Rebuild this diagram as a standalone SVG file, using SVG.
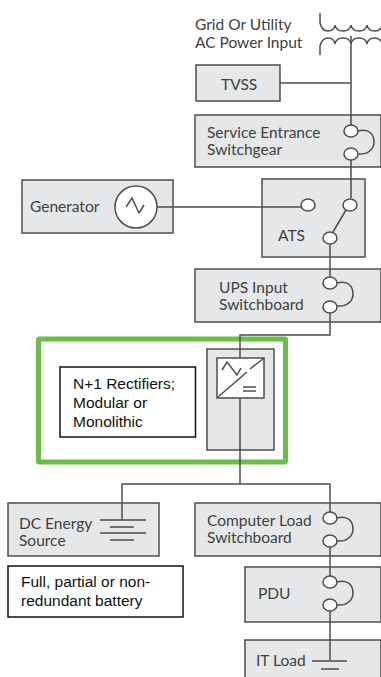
<svg xmlns="http://www.w3.org/2000/svg" width="381" height="677" viewBox="0 0 381 677">
<style>
.box{fill:#e6e7e8;stroke:#4d4d4f;stroke-width:1.5}
.wire{fill:none;stroke:#4d4d4f;stroke-width:1.5}
.term{fill:#fff;stroke:#4d4d4f;stroke-width:1.5}
.lbl{font-family:"Lato","Open Sans",sans-serif;font-size:15.5px;fill:#404042}
.note{font-family:"Liberation Sans",Arial,sans-serif;font-size:15.5px;fill:#111}
.noteb{fill:#fff;stroke:#111;stroke-width:1.5}
</style>
<defs>
<path id="bypass" class="wire" d="M0 0C12 -3 16 4 16 11C16 18 10 24 0 23"/>
</defs>
<rect width="381" height="677" fill="#fff"/>
<g id="green-highlight"><rect x="38.500" y="339" width="247" height="123" rx="1" fill="none" stroke="#6abd45" stroke-width="5"/></g>
<g id="grid-input">
<text class="lbl" x="195" y="30">Grid Or Utility</text>
<text class="lbl" x="195" y="48">AC Power Input</text>
<path class="wire" d="M320 13V23Q322 31 328 31Q334 31 335 25Q336 31 343 31Q350 31 351 25Q352 31 359 31Q366 31 367 25Q368 31 375 31Q379 31 381 28"/>
<path class="wire" d="M320 55V46Q322 38 328 38Q334 38 335 44Q336 38 343 38Q350 38 351 44Q352 38 359 38Q366 38 367 44Q368 38 375 38Q379 38 381 41"/>
</g>
<g id="tvss"><rect class="box" x="196" y="65" width="84" height="36"/><text class="lbl" x="221" y="90">TVSS</text></g>
<g id="service-entrance"><rect class="box" x="195" y="115" width="186" height="52"/><text class="lbl" x="207" y="138">Service Entrance</text><text class="lbl" x="207" y="155">Switchgear</text></g>
<g id="generator"><rect class="box" x="22" y="180" width="151" height="53"/><text class="lbl" x="30" y="212">Generator</text></g>
<g id="ats"><rect class="box" x="262" y="179" width="103" height="78"/><text class="lbl" x="278" y="241">ATS</text></g>
<g id="ups-input"><rect class="box" x="195" y="269" width="186" height="53"/><text class="lbl" x="219" y="293">UPS Input</text><text class="lbl" x="219" y="310">Switchboard</text></g>
<g id="rectifier"><rect class="box" x="207" y="349" width="67" height="101"/><rect x="217" y="358" width="47" height="40" fill="#fff" stroke="#4d4d4f" stroke-width="1.500"/></g>
<g id="rectifier-note"><rect class="noteb" x="60" y="367" width="135.500" height="70"/><text class="note" x="73" y="389">N+1 Rectifiers;</text><text class="note" x="73" y="408">Modular or</text><text class="note" x="73" y="427">Monolithic</text></g>
<g id="dc-source"><rect class="box" x="8" y="503" width="151" height="53"/><text class="lbl" x="19" y="529">DC Energy</text><text class="lbl" x="19" y="546">Source</text></g>
<g id="battery-note"><rect class="noteb" x="8" y="566" width="175" height="51"/><text class="note" x="21" y="587">Full, partial or non-</text><text class="note" x="21" y="606">redundant battery</text></g>
<g id="computer-load"><rect class="box" x="195" y="503" width="186" height="53"/><text class="lbl" x="207" y="526">Computer Load</text><text class="lbl" x="207" y="543">Switchboard</text></g>
<g id="pdu"><rect class="box" x="245" y="567" width="136" height="55"/><text class="lbl" x="258" y="599">PDU</text></g>
<g id="it-load"><path class="box" d="M245 677V640H381V677"/><text class="lbl" x="256" y="666">IT Load</text></g>
<g id="connectors">
<path class="wire" d="M351 36V125M280 83H351M351 160V198M157 207H301"/>
<path class="wire" d="M333 232L346 210M330 245V277M330 313V335H240V358M240 398V484M122 520V484H330V512M330 547V576M330 611V661"/>
<use href="#bypass" x="358" y="131"/>
<use href="#bypass" x="337" y="283"/>
<use href="#bypass" x="337" y="518"/>
<use href="#bypass" x="337" y="582"/>
<path class="wire" d="M312 661H347M321 669H339"/>
<path class="wire" d="M100 520H146M110 527H134M100 533H146M110 540H134"/>
<circle class="term" cx="136" cy="207" r="21"/>
<path class="wire" d="M126 207L132 198L139 213L144 205"/>
<g class="term">
<ellipse cx="351" cy="131" rx="7" ry="6"/><ellipse cx="351" cy="154" rx="7" ry="6"/>
<ellipse cx="308" cy="205" rx="7" ry="6"/><ellipse cx="350" cy="205" rx="7" ry="6"/><ellipse cx="330" cy="238" rx="7" ry="6"/>
<ellipse cx="330" cy="283" rx="7" ry="6"/><ellipse cx="330" cy="307" rx="7" ry="6"/>
<ellipse cx="330" cy="518" rx="7" ry="6"/><ellipse cx="330" cy="541" rx="7" ry="6"/>
<ellipse cx="330" cy="582" rx="7" ry="6"/><ellipse cx="330" cy="605" rx="7" ry="6"/>
</g>
<path class="wire" d="M218 397L247 372M250 369L264 358M222 370L227 362L237 375L241 368M243 387H256M243 391H256"/>
</g>
</svg>
